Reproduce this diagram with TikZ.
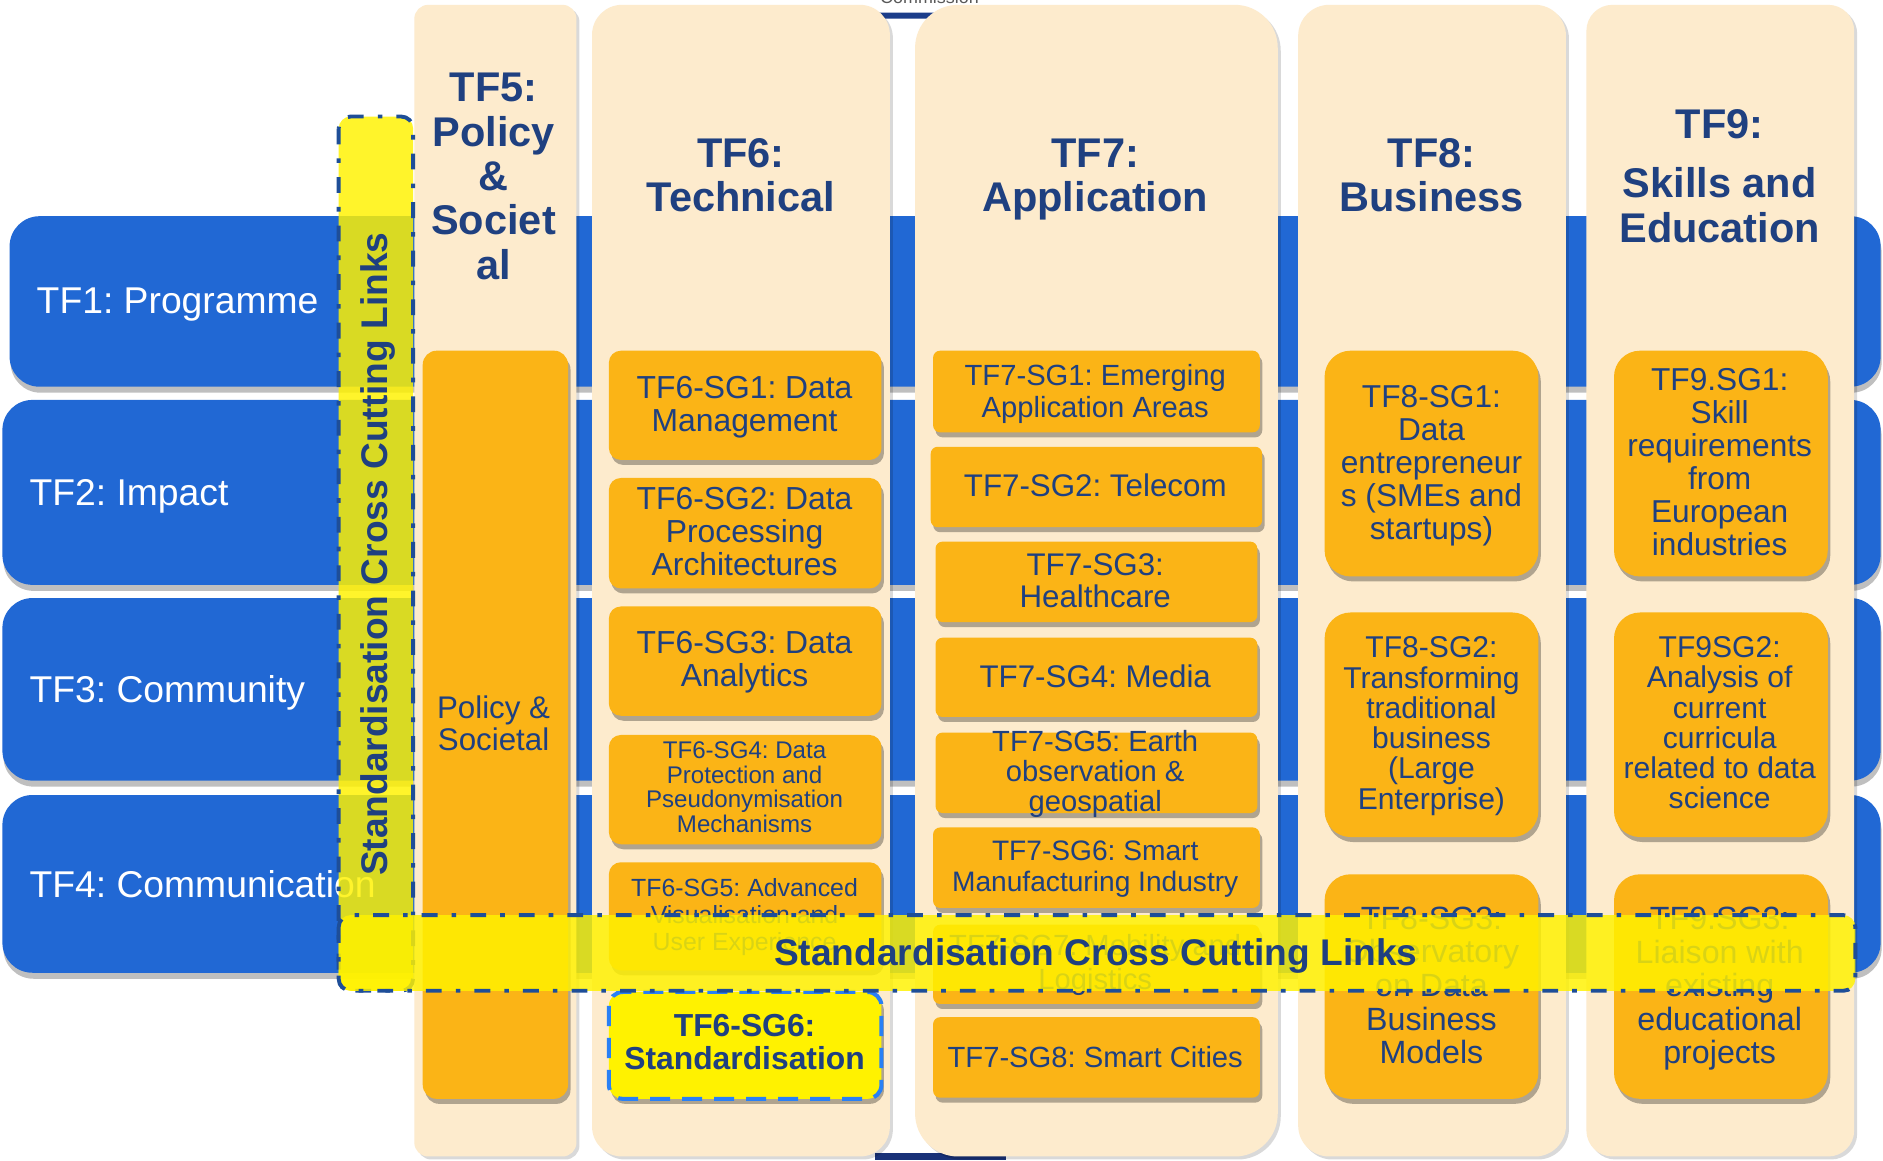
\documentclass[tikz,border=0pt]{standalone}
\usepackage{fontspec}
\setmainfont{Liberation Sans}
\usetikzlibrary{shadows}
\definecolor{rowblue}{RGB}{33,104,212}
\definecolor{cream}{RGB}{253,235,205}
\definecolor{sgorange}{RGB}{251,180,22}
\definecolor{navy}{RGB}{31,64,128}
\definecolor{bandline}{RGB}{30,78,152}
\definecolor{sgline}{RGB}{41,128,245}
\definecolor{barnavy}{RGB}{25,50,120}
\frenchspacing
\begin{document}
\begin{tikzpicture}[x=0.12mm,y=-0.12mm,
 row/.style={fill=rowblue,rounded corners=3mm,drop shadow={shadow xshift=0.1mm,shadow yshift=-0.6mm,opacity=0.25,fill=black}},
 column/.style={fill=cream,drop shadow={shadow xshift=0.3mm,shadow yshift=-0.3mm,opacity=0.15,fill=black}},
 sgbox/.style={fill=sgorange,rounded corners=1.2mm,drop shadow={shadow xshift=0.25mm,shadow yshift=-0.5mm,opacity=0.3,fill=black}},
 rowtext/.style={text=white,anchor=base west,inner sep=0pt,font=\fontsize{10.6}{12}\selectfont},
 head/.style={text=navy,align=center,inner sep=0pt,font=\bfseries\fontsize{11.8}{12.6}\selectfont},
 sgtext/.style={text=navy,align=center,inner sep=0pt,font=\fontsize{9.05}{9.4}\selectfont},
 band/.style={fill=yellow,fill opacity=0.83,draw=bandline,line width=1.1pt,dash pattern=on 4.5pt off 4pt on 1.3pt off 4pt,rounded corners=1.2mm},
 bandtext/.style={text=navy,inner sep=0pt,font=\bfseries\fontsize{10.55}{12}\selectfont}]
\useasboundingbox (0,0) rectangle (1568,966);
\fill[white] (0,0) rectangle (1568,966);
\node[text=black!65,anchor=base,inner sep=0pt,font=\fontsize{5.1}{6}\selectfont] (commission) at (774,3) {Commission};
\fill[barnavy!80!rowblue] (728,10.5)--(800,10.5)--(800,15.5)--(732,15.5)--cycle;
\fill[barnavy] (729,960) rectangle (838,966);
\path[row] (8,180) rectangle (1566,322);
\path[row] (2,333) rectangle (1566,487);
\path[row] (2,498) rectangle (1566,650);
\path[row] (2,662) rectangle (1566,810);
\node[rowtext] (tf1) at (30,261) {TF1: Programme};
\node[rowtext] (tf2) at (24,421) {TF2: Impact};
\node[rowtext] (tf3) at (24,585) {TF3: Community};
\node[rowtext] (tf4) at (24,747) {TF4: Communication};
\path[column,rounded corners=1.4mm] (345,4) rectangle (480,963);
\path[column,rounded corners=3mm] (493,4) rectangle (741,963);
\path[column,rounded corners=4.3mm] (762,4) rectangle (1064,963);
\path[column,rounded corners=3.1mm] (1081,4) rectangle (1304,963);
\path[column,rounded corners=2.6mm] (1321,4) rectangle (1544,963);
\node[head] (tf5) at (411,147) {TF5:\\Policy\\\&\\Societ\\al};
\node[head] (tf6) at (617,146) {TF6:\\Technical};
\node[head] (tf7) at (912,149.5) {TF7:\\Application};
\node[head] (tf8) at (1192,146) {TF8:\\Business};
\node[head] (tf9) at (1432,146.5) {TF9:\\[4.4pt]Skills and\\Education};
\path[sgbox,rounded corners=1.4mm] (352,292) rectangle (473,915);
\node[sgtext,font=\fontsize{8.9}{9.2}\selectfont] (tf5sg) at (411,602.5) {Policy \&\\Societal};
\path[sgbox] (507,292) rectangle (734,383);
\path[sgbox] (507,398) rectangle (734,490);
\path[sgbox] (507,505) rectangle (734,596);
\path[sgbox] (507,612) rectangle (734,703);
\path[sgbox] (507,718) rectangle (734,808);
\path[fill=yellow,draw=sgline,line width=1.15pt,dash pattern=on 5.7pt off 3.4pt,rounded corners=1.4mm,drop shadow={shadow xshift=0.25mm,shadow yshift=-0.5mm,opacity=0.3,fill=black}] (507,826) rectangle (734,915);
\node[sgtext] (tf6sg1) at (620,339.3) {TF6-SG1: Data\\Management};
\node[sgtext] (tf6sg2) at (620,442.5) {TF6-SG2: Data\\Processing\\Architectures};
\node[sgtext] (tf6sg3) at (620,551.3) {TF6-SG3: Data\\Analytics};
\node[sgtext,font=\fontsize{6.85}{6.95}\selectfont] (tf6sg4) at (620,655.5) {TF6-SG4: Data\\Protection and\\Pseudonymisation\\Mechanisms};
\node[sgtext,font=\fontsize{7.07}{7.7}\selectfont] (tf6sg5) at (620,763.7) {TF6-SG5: Advanced\\Visualisation and\\User Experience};
\node[sgtext,font=\bfseries\fontsize{9.05}{9.3}\selectfont] (tf6sg6) at (620,867.5) {TF6-SG6:\\Standardisation};
\path[sgbox,rounded corners=0.7mm] (777,292) rectangle (1049,360);
\path[sgbox,rounded corners=0.7mm] (775,372) rectangle (1051,439);
\path[sgbox,rounded corners=0.7mm] (779,451) rectangle (1047,518);
\path[sgbox,rounded corners=0.7mm] (779,531) rectangle (1047,597);
\path[sgbox,rounded corners=0.7mm] (779,610) rectangle (1047,677);
\path[sgbox,rounded corners=0.7mm] (777,689) rectangle (1049,756);
\path[sgbox,rounded corners=0.7mm] (777,770) rectangle (1049,836);
\path[sgbox,rounded corners=0.7mm] (777,847) rectangle (1049,914);
\node[sgtext,font=\fontsize{8.3}{9.2}\selectfont] (tf7sg1) at (912,328) {TF7-SG1: Emerging\\Application Areas};
\node[sgtext,font=\fontsize{8.9}{9.2}\selectfont] (tf7sg2) at (912,404) {TF7-SG2: Telecom};
\node[sgtext,font=\fontsize{8.9}{9.2}\selectfont] (tf7sg3) at (912,483.5) {TF7-SG3:\\Healthcare};
\node[sgtext,font=\fontsize{8.9}{9.2}\selectfont] (tf7sg4) at (912,563) {TF7-SG4: Media};
\node[sgtext,font=\fontsize{8.3}{8.55}\selectfont] (tf7sg5) at (912,644.6) {TF7-SG5: Earth\\observation \&\\geospatial};
\node[sgtext,font=\fontsize{8.0}{8.9}\selectfont] (tf7sg6) at (912,723.5) {TF7-SG6: Smart\\Manufacturing Industry};
\node[sgtext,font=\fontsize{8.3}{9.5}\selectfont] (tf7sg7) at (912,803.5) {TF7-SG7: Mobility and\\Logistics};
\node[sgtext,font=\fontsize{8.3}{9.2}\selectfont] (tf7sg8) at (912,880) {TF7-SG8: Smart Cities};
\path[sgbox,rounded corners=2.6mm] (1103,292) rectangle (1281,480);
\path[sgbox,rounded corners=2.6mm] (1103,510) rectangle (1281,697);
\path[sgbox,rounded corners=2.6mm] (1103,728) rectangle (1281,915);
\node[sgtext,font=\fontsize{9.0}{9.4}\selectfont] (tf8sg1) at (1192,387.8) {TF8-SG1:\\Data\\entrepreneur\\s (SMEs and\\startups)};
\node[sgtext,font=\fontsize{8.55}{8.6}\selectfont] (tf8sg2) at (1192,604.6) {TF8-SG2:\\Transforming\\traditional\\business\\(Large\\Enterprise)};
\node[sgtext,font=\fontsize{9.15}{9.55}\selectfont] (tf8sg3) at (1192,820.5) {TF8-SG3:\\Observatory\\on Data\\Business\\Models};
\path[sgbox,rounded corners=2.6mm] (1344,292) rectangle (1522,480);
\path[sgbox,rounded corners=2.6mm] (1344,510) rectangle (1522,697);
\path[sgbox,rounded corners=2.6mm] (1344,728) rectangle (1522,915);
\node[sgtext,font=\fontsize{9.0}{9.4}\selectfont] (tf9sg1) at (1432,385) {TF9.SG1:\\Skill\\requirements\\from\\European\\industries};
\node[sgtext,font=\fontsize{8.55}{8.6}\selectfont] (tf9sg2) at (1432,602) {TF9SG2:\\Analysis of\\current\\curricula\\related to data\\science};
\node[sgtext,font=\fontsize{9.15}{9.55}\selectfont] (tf9sg3) at (1432,823.3) {TF9.SG3:\\Liaison with\\existing\\educational\\projects};
\path[band] (282,97) rectangle (344,825);
\path[band] (282,762) rectangle (1545,825);
\node[bandtext,rotate=90] (vlinks) at (315,461.5) {Standardisation Cross Cutting Links};
\node[bandtext] (hlinks) at (912.5,796) {Standardisation Cross Cutting Links};
\end{tikzpicture}
\end{document}
